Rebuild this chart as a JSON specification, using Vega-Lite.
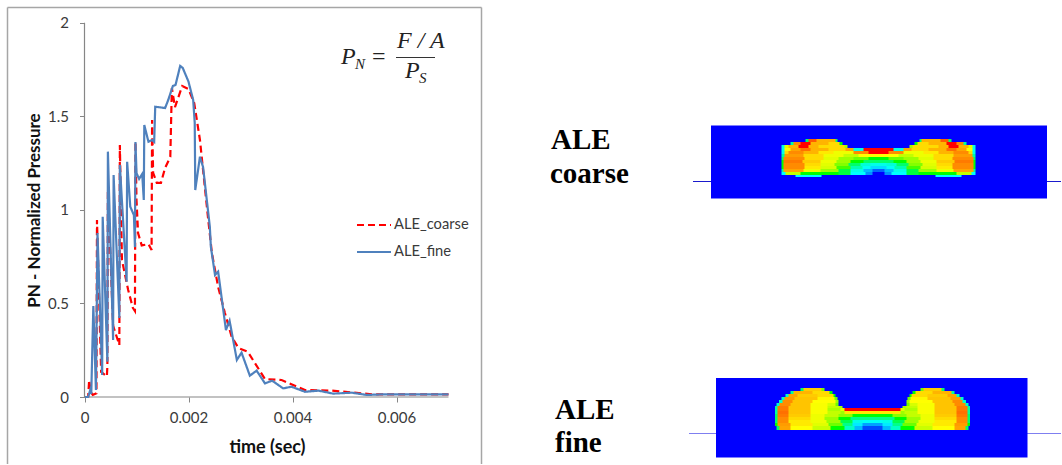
{"$schema":"https://vega.github.io/schema/vega-lite/v6.json","width":1062,"height":465,"autosize":{"type":"fit","contains":"padding"},"padding":0,"background":"#ffffff","config":{"view":{"stroke":null}},
"datasets":{
"one":[{}],
"pressure":[
{"series":"ALE_coarse","time":0.00001,"pn":0},{"series":"ALE_coarse","time":0.00007,"pn":0},{"series":"ALE_coarse","time":0.00009,"pn":0.091},{"series":"ALE_coarse","time":0.00012,"pn":0.027},{"series":"ALE_coarse","time":0.00016,"pn":0.011},{"series":"ALE_coarse","time":0.00023,"pn":0.02},{"series":"ALE_coarse","time":0.00024,"pn":0.946},{"series":"ALE_coarse","time":0.00032,"pn":0.134},{"series":"ALE_coarse","time":0.00043,"pn":0.11},{"series":"ALE_coarse","time":0.00044,"pn":0.166},{"series":"ALE_coarse","time":0.00045,"pn":1.106},{"series":"ALE_coarse","time":0.00055,"pn":0.381},{"series":"ALE_coarse","time":0.00067,"pn":0.278},{"series":"ALE_coarse","time":0.00068,"pn":1.346},{"series":"ALE_coarse","time":0.00072,"pn":0.732},{"series":"ALE_coarse","time":0.00084,"pn":0.572},{"series":"ALE_coarse","time":0.00093,"pn":0.476},{"series":"ALE_coarse","time":0.00097,"pn":0.459},{"series":"ALE_coarse","time":0.00098,"pn":1.364},{"series":"ALE_coarse","time":0.001,"pn":1.053},{"series":"ALE_coarse","time":0.00103,"pn":0.876},{"series":"ALE_coarse","time":0.0011,"pn":0.81},{"series":"ALE_coarse","time":0.00123,"pn":0.817},{"series":"ALE_coarse","time":0.00129,"pn":0.786},{"series":"ALE_coarse","time":0.0013,"pn":1.48},{"series":"ALE_coarse","time":0.00132,"pn":1.197},{"series":"ALE_coarse","time":0.00139,"pn":1.144},{"series":"ALE_coarse","time":0.00147,"pn":1.144},{"series":"ALE_coarse","time":0.00155,"pn":1.224},{"series":"ALE_coarse","time":0.00165,"pn":1.283},{"series":"ALE_coarse","time":0.00168,"pn":1.651},{"series":"ALE_coarse","time":0.00174,"pn":1.549},{"series":"ALE_coarse","time":0.00188,"pn":1.662},{"series":"ALE_coarse","time":0.002,"pn":1.646},{"series":"ALE_coarse","time":0.00211,"pn":1.571},{"series":"ALE_coarse","time":0.00222,"pn":1.374},{"series":"ALE_coarse","time":0.00228,"pn":1.213},{"series":"ALE_coarse","time":0.00238,"pn":0.946},{"series":"ALE_coarse","time":0.00245,"pn":0.769},{"series":"ALE_coarse","time":0.00257,"pn":0.588},{"series":"ALE_coarse","time":0.0027,"pn":0.449},{"series":"ALE_coarse","time":0.00283,"pn":0.322},{"series":"ALE_coarse","time":0.00296,"pn":0.262},{"series":"ALE_coarse","time":0.00314,"pn":0.242},{"series":"ALE_coarse","time":0.00347,"pn":0.096},{"series":"ALE_coarse","time":0.00379,"pn":0.091},{"series":"ALE_coarse","time":0.00424,"pn":0.037},{"series":"ALE_coarse","time":0.00475,"pn":0.034},{"series":"ALE_coarse","time":0.00533,"pn":0.02},{"series":"ALE_coarse","time":0.00552,"pn":0.014},{"series":"ALE_coarse","time":0.007,"pn":0.014},
{"series":"ALE_fine","time":0.00001,"pn":0},{"series":"ALE_fine","time":0.00007,"pn":0},{"series":"ALE_fine","time":0.00011,"pn":0.037},{"series":"ALE_fine","time":0.00013,"pn":0.016},{"series":"ALE_fine","time":0.00017,"pn":0.486},{"series":"ALE_fine","time":0.00022,"pn":0.037},{"series":"ALE_fine","time":0.00025,"pn":0.876},{"series":"ALE_fine","time":0.00034,"pn":0.118},{"series":"ALE_fine","time":0.00035,"pn":0.963},{"series":"ALE_fine","time":0.00044,"pn":0.189},{"series":"ALE_fine","time":0.00045,"pn":1.311},{"series":"ALE_fine","time":0.00055,"pn":0.305},{"series":"ALE_fine","time":0.00056,"pn":1.186},{"series":"ALE_fine","time":0.00067,"pn":0.422},{"series":"ALE_fine","time":0.00068,"pn":1.24},{"series":"ALE_fine","time":0.00081,"pn":0.616},{"series":"ALE_fine","time":0.00082,"pn":1.257},{"series":"ALE_fine","time":0.00088,"pn":1.017},{"series":"ALE_fine","time":0.00095,"pn":0.972},{"series":"ALE_fine","time":0.00097,"pn":0.801},{"series":"ALE_fine","time":0.00098,"pn":1.363},{"series":"ALE_fine","time":0.001,"pn":1.197},{"series":"ALE_fine","time":0.00105,"pn":1.165},{"series":"ALE_fine","time":0.00111,"pn":1.192},{"series":"ALE_fine","time":0.00114,"pn":1.053},{"series":"ALE_fine","time":0.00115,"pn":1.453},{"series":"ALE_fine","time":0.00123,"pn":1.364},{"series":"ALE_fine","time":0.0013,"pn":1.373},{"series":"ALE_fine","time":0.00134,"pn":1.363},{"series":"ALE_fine","time":0.00136,"pn":1.551},{"series":"ALE_fine","time":0.00155,"pn":1.544},{"series":"ALE_fine","time":0.00161,"pn":1.587},{"series":"ALE_fine","time":0.0017,"pn":1.662},{"series":"ALE_fine","time":0.00175,"pn":1.667},{"series":"ALE_fine","time":0.00184,"pn":1.769},{"series":"ALE_fine","time":0.00189,"pn":1.758},{"series":"ALE_fine","time":0.002,"pn":1.685},{"series":"ALE_fine","time":0.00209,"pn":1.587},{"series":"ALE_fine","time":0.00212,"pn":1.464},{"series":"ALE_fine","time":0.00213,"pn":1.106},{"series":"ALE_fine","time":0.00222,"pn":1.284},{"series":"ALE_fine","time":0.00228,"pn":1.229},{"series":"ALE_fine","time":0.00241,"pn":0.91},{"series":"ALE_fine","time":0.00243,"pn":0.803},{"series":"ALE_fine","time":0.00251,"pn":0.652},{"series":"ALE_fine","time":0.00257,"pn":0.67},{"series":"ALE_fine","time":0.00272,"pn":0.358},{"series":"ALE_fine","time":0.00279,"pn":0.408},{"series":"ALE_fine","time":0.00293,"pn":0.198},{"series":"ALE_fine","time":0.00302,"pn":0.237},{"series":"ALE_fine","time":0.00318,"pn":0.114},{"series":"ALE_fine","time":0.00331,"pn":0.141},{"series":"ALE_fine","time":0.00347,"pn":0.073},{"series":"ALE_fine","time":0.00361,"pn":0.087},{"series":"ALE_fine","time":0.00382,"pn":0.046},{"series":"ALE_fine","time":0.00398,"pn":0.055},{"series":"ALE_fine","time":0.00424,"pn":0.028},{"series":"ALE_fine","time":0.0045,"pn":0.034},{"series":"ALE_fine","time":0.00478,"pn":0.018},{"series":"ALE_fine","time":0.00514,"pn":0.023},{"series":"ALE_fine","time":0.00543,"pn":0.011},{"series":"ALE_fine","time":0.00572,"pn":0.014},{"series":"ALE_fine","time":0.007,"pn":0.014}
],
"field":[
{"x0":711,"x1":1047,"y0":125.5,"y1":198.5,"level":0},
{"x0":805.5,"x1":951.5,"y0":139,"y1":142,"level":0.45},{"x0":808.5,"x1":948.5,"y0":139,"y1":142,"level":0.95},{"x0":816.5,"x1":940.5,"y0":139,"y1":142,"level":0.85},{"x0":835.5,"x1":921.5,"y0":139,"y1":142,"level":0.45},{"x0":837.5,"x1":919.5,"y0":139,"y1":142,"level":0},
{"x0":790.5,"x1":966.5,"y0":142,"y1":145,"level":0.4},{"x0":793.5,"x1":963.5,"y0":142,"y1":145,"level":0.9},{"x0":800.5,"x1":956.5,"y0":142,"y1":145,"level":1},{"x0":810.5,"x1":946.5,"y0":142,"y1":145,"level":0.85},{"x0":828.5,"x1":928.5,"y0":142,"y1":145,"level":0.8},{"x0":839.5,"x1":917.5,"y0":142,"y1":145,"level":0.5},{"x0":842.5,"x1":914.5,"y0":142,"y1":145,"level":0},
{"x0":781.5,"x1":975.5,"y0":145,"y1":148,"level":0.3},{"x0":784.5,"x1":972.5,"y0":145,"y1":148,"level":0.7},{"x0":788.5,"x1":968.5,"y0":145,"y1":148,"level":0.85},{"x0":798.5,"x1":958.5,"y0":145,"y1":148,"level":1},{"x0":808.5,"x1":948.5,"y0":145,"y1":148,"level":0.85},{"x0":818.5,"x1":938.5,"y0":145,"y1":148,"level":0.8},{"x0":844.5,"x1":912.5,"y0":145,"y1":148,"level":0.6},{"x0":847.5,"x1":909.5,"y0":145,"y1":148,"level":0},
{"x0":781.5,"x1":975.5,"y0":148,"y1":151,"level":0.3},{"x0":784.5,"x1":972.5,"y0":148,"y1":151,"level":0.75},{"x0":790.5,"x1":966.5,"y0":148,"y1":151,"level":0.87},{"x0":800.5,"x1":956.5,"y0":148,"y1":151,"level":0.93},{"x0":810.5,"x1":946.5,"y0":148,"y1":151,"level":0.85},{"x0":828.5,"x1":928.5,"y0":148,"y1":151,"level":0.8},{"x0":845.5,"x1":911.5,"y0":148,"y1":151,"level":0.87},{"x0":853.5,"x1":903.5,"y0":148,"y1":151,"level":0.3},{"x0":863.5,"x1":893.5,"y0":148,"y1":151,"level":1},
{"x0":781.5,"x1":975.5,"y0":151,"y1":154,"level":0.3},{"x0":784.5,"x1":972.5,"y0":151,"y1":154,"level":0.8},{"x0":788.5,"x1":968.5,"y0":151,"y1":154,"level":0.9},{"x0":803.5,"x1":953.5,"y0":151,"y1":154,"level":0.85},{"x0":818.5,"x1":938.5,"y0":151,"y1":154,"level":0.78},{"x0":833.5,"x1":923.5,"y0":151,"y1":154,"level":0.72},{"x0":853.5,"x1":903.5,"y0":151,"y1":154,"level":0.9},{"x0":868.5,"x1":888.5,"y0":151,"y1":154,"level":1},
{"x0":781.5,"x1":975.5,"y0":154,"y1":157,"level":0.4},{"x0":784.5,"x1":972.5,"y0":154,"y1":157,"level":0.88},{"x0":803.5,"x1":953.5,"y0":154,"y1":157,"level":0.8},{"x0":823.5,"x1":933.5,"y0":154,"y1":157,"level":0.72},{"x0":843.5,"x1":913.5,"y0":154,"y1":157,"level":0.65},{"x0":858.5,"x1":898.5,"y0":154,"y1":157,"level":0.75},
{"x0":781.5,"x1":975.5,"y0":157,"y1":160,"level":0.45},{"x0":783.5,"x1":973.5,"y0":157,"y1":160,"level":0.9},{"x0":804.5,"x1":952.5,"y0":157,"y1":160,"level":0.8},{"x0":823.5,"x1":933.5,"y0":157,"y1":160,"level":0.7},{"x0":838.5,"x1":918.5,"y0":157,"y1":160,"level":0.6},{"x0":853.5,"x1":903.5,"y0":157,"y1":160,"level":0.55},{"x0":868.5,"x1":888.5,"y0":157,"y1":160,"level":0.5},
{"x0":781.5,"x1":975.5,"y0":160,"y1":163,"level":0.5},{"x0":783.5,"x1":973.5,"y0":160,"y1":163,"level":0.92},{"x0":802.5,"x1":954.5,"y0":160,"y1":163,"level":0.82},{"x0":820.5,"x1":936.5,"y0":160,"y1":163,"level":0.72},{"x0":836.5,"x1":920.5,"y0":160,"y1":163,"level":0.6},{"x0":850.5,"x1":906.5,"y0":160,"y1":163,"level":0.5},{"x0":863.5,"x1":893.5,"y0":160,"y1":163,"level":0.45},
{"x0":781.5,"x1":975.5,"y0":163,"y1":166,"level":0.5},{"x0":783.5,"x1":973.5,"y0":163,"y1":166,"level":0.9},{"x0":804.5,"x1":952.5,"y0":163,"y1":166,"level":0.8},{"x0":820.5,"x1":936.5,"y0":163,"y1":166,"level":0.7},{"x0":834.5,"x1":922.5,"y0":163,"y1":166,"level":0.57},{"x0":848.5,"x1":908.5,"y0":163,"y1":166,"level":0.45},{"x0":860.5,"x1":896.5,"y0":163,"y1":166,"level":0.33},{"x0":870.5,"x1":886.5,"y0":163,"y1":166,"level":0.3},
{"x0":781.5,"x1":975.5,"y0":166,"y1":169,"level":0.5},{"x0":783.5,"x1":973.5,"y0":166,"y1":169,"level":0.9},{"x0":804.5,"x1":952.5,"y0":166,"y1":169,"level":0.78},{"x0":820.5,"x1":936.5,"y0":166,"y1":169,"level":0.68},{"x0":836.5,"x1":920.5,"y0":166,"y1":169,"level":0.52},{"x0":850.5,"x1":906.5,"y0":166,"y1":169,"level":0.38},{"x0":862.5,"x1":894.5,"y0":166,"y1":169,"level":0.27},{"x0":870.5,"x1":886.5,"y0":166,"y1":169,"level":0.2},
{"x0":781.5,"x1":975.5,"y0":169,"y1":172,"level":0.4},{"x0":783.5,"x1":973.5,"y0":169,"y1":172,"level":0.87},{"x0":803.5,"x1":953.5,"y0":169,"y1":172,"level":0.72},{"x0":820.5,"x1":936.5,"y0":169,"y1":172,"level":0.6},{"x0":838.5,"x1":918.5,"y0":169,"y1":172,"level":0.48},{"x0":850.5,"x1":906.5,"y0":169,"y1":172,"level":0.3},{"x0":863.5,"x1":893.5,"y0":169,"y1":172,"level":0.15},{"x0":872.5,"x1":884.5,"y0":169,"y1":172,"level":0.05},
{"x0":781.5,"x1":975.5,"y0":172,"y1":175,"level":0.25},{"x0":785.5,"x1":971.5,"y0":172,"y1":175,"level":0.65},{"x0":800.5,"x1":956.5,"y0":172,"y1":175,"level":0.5},{"x0":838.5,"x1":918.5,"y0":172,"y1":175,"level":0.48},{"x0":850.5,"x1":906.5,"y0":172,"y1":175,"level":0.25},{"x0":865.5,"x1":891.5,"y0":172,"y1":175,"level":0.1},{"x0":872.5,"x1":884.5,"y0":172,"y1":175,"level":0},
{"x0":795.5,"x1":961.5,"y0":175,"y1":177,"level":0.25},{"x0":821.5,"x1":935.5,"y0":175,"y1":177,"level":0},
{"x0":716,"x1":1027.5,"y0":378,"y1":457.5,"level":0},
{"x0":800.5,"x1":944.5,"y0":388,"y1":391,"level":0.45},{"x0":803.5,"x1":941.5,"y0":388,"y1":391,"level":0.82},{"x0":821.5,"x1":923.5,"y0":388,"y1":391,"level":0.55},{"x0":824.5,"x1":920.5,"y0":388,"y1":391,"level":0},
{"x0":790.5,"x1":954.5,"y0":391,"y1":394,"level":0.4},{"x0":793.5,"x1":951.5,"y0":391,"y1":394,"level":0.85},{"x0":812.5,"x1":932.5,"y0":391,"y1":394,"level":0.8},{"x0":829.5,"x1":915.5,"y0":391,"y1":394,"level":0.5},{"x0":832.5,"x1":912.5,"y0":391,"y1":394,"level":0},
{"x0":785.5,"x1":959.5,"y0":394,"y1":397,"level":0.35},{"x0":788.5,"x1":956.5,"y0":394,"y1":397,"level":0.87},{"x0":797.5,"x1":947.5,"y0":394,"y1":397,"level":0.82},{"x0":817.5,"x1":927.5,"y0":394,"y1":397,"level":0.8},{"x0":833.5,"x1":911.5,"y0":394,"y1":397,"level":0.5},{"x0":835.5,"x1":909.5,"y0":394,"y1":397,"level":0},
{"x0":781.5,"x1":963.5,"y0":397,"y1":400,"level":0.35},{"x0":784.5,"x1":960.5,"y0":397,"y1":400,"level":0.88},{"x0":794.5,"x1":950.5,"y0":397,"y1":400,"level":0.83},{"x0":817.5,"x1":927.5,"y0":397,"y1":400,"level":0.76},{"x0":834.5,"x1":910.5,"y0":397,"y1":400,"level":0.55},{"x0":837.5,"x1":907.5,"y0":397,"y1":400,"level":0},
{"x0":779,"x1":966,"y0":400,"y1":403,"level":0.35},{"x0":782.5,"x1":962.5,"y0":400,"y1":403,"level":0.9},{"x0":792.5,"x1":952.5,"y0":400,"y1":403,"level":0.83},{"x0":812.5,"x1":932.5,"y0":400,"y1":403,"level":0.75},{"x0":835.5,"x1":909.5,"y0":400,"y1":403,"level":0.6},{"x0":838.5,"x1":906.5,"y0":400,"y1":403,"level":0},
{"x0":776.5,"x1":968.5,"y0":403,"y1":406,"level":0.35},{"x0":779.5,"x1":965.5,"y0":403,"y1":406,"level":0.9},{"x0":790.5,"x1":954.5,"y0":403,"y1":406,"level":0.83},{"x0":810.5,"x1":934.5,"y0":403,"y1":406,"level":0.74},{"x0":827.5,"x1":917.5,"y0":403,"y1":406,"level":0.68},{"x0":835.5,"x1":909.5,"y0":403,"y1":406,"level":0.55},{"x0":838.5,"x1":906.5,"y0":403,"y1":406,"level":0},
{"x0":775,"x1":970,"y0":406,"y1":408,"level":0.4},{"x0":777.5,"x1":967.5,"y0":406,"y1":408,"level":0.92},{"x0":788.5,"x1":956.5,"y0":406,"y1":408,"level":0.83},{"x0":810.5,"x1":934.5,"y0":406,"y1":408,"level":0.74},{"x0":827.5,"x1":917.5,"y0":406,"y1":408,"level":0.65},{"x0":839.5,"x1":905.5,"y0":406,"y1":408,"level":0.6},{"x0":842.5,"x1":902.5,"y0":406,"y1":408,"level":0},
{"x0":775,"x1":970,"y0":408,"y1":411,"level":0.4},{"x0":777.5,"x1":967.5,"y0":408,"y1":411,"level":0.92},{"x0":788.5,"x1":956.5,"y0":408,"y1":411,"level":0.83},{"x0":810.5,"x1":934.5,"y0":408,"y1":411,"level":0.74},{"x0":827.5,"x1":917.5,"y0":408,"y1":411,"level":0.62},{"x0":840.5,"x1":904.5,"y0":408,"y1":411,"level":0.7},{"x0":844.5,"x1":900.5,"y0":408,"y1":411,"level":1},
{"x0":775,"x1":970,"y0":411,"y1":414,"level":0.4},{"x0":777.5,"x1":967.5,"y0":411,"y1":414,"level":0.93},{"x0":788.5,"x1":956.5,"y0":411,"y1":414,"level":0.83},{"x0":810.5,"x1":934.5,"y0":411,"y1":414,"level":0.74},{"x0":827.5,"x1":917.5,"y0":411,"y1":414,"level":0.65},{"x0":840.5,"x1":904.5,"y0":411,"y1":414,"level":0.6},{"x0":844.5,"x1":900.5,"y0":411,"y1":414,"level":0.78},
{"x0":775,"x1":970,"y0":414,"y1":417,"level":0.45},{"x0":777.5,"x1":967.5,"y0":414,"y1":417,"level":0.92},{"x0":788.5,"x1":956.5,"y0":414,"y1":417,"level":0.82},{"x0":810.5,"x1":934.5,"y0":414,"y1":417,"level":0.72},{"x0":824.5,"x1":920.5,"y0":414,"y1":417,"level":0.65},{"x0":838.5,"x1":906.5,"y0":414,"y1":417,"level":0.58},{"x0":852.5,"x1":892.5,"y0":414,"y1":417,"level":0.5},
{"x0":775,"x1":970,"y0":417,"y1":420,"level":0.45},{"x0":777.5,"x1":967.5,"y0":417,"y1":420,"level":0.9},{"x0":788.5,"x1":956.5,"y0":417,"y1":420,"level":0.8},{"x0":810.5,"x1":934.5,"y0":417,"y1":420,"level":0.72},{"x0":824.5,"x1":920.5,"y0":417,"y1":420,"level":0.6},{"x0":838.5,"x1":906.5,"y0":417,"y1":420,"level":0.5},{"x0":850.5,"x1":894.5,"y0":417,"y1":420,"level":0.42},
{"x0":775,"x1":970,"y0":420,"y1":423,"level":0.45},{"x0":777.5,"x1":967.5,"y0":420,"y1":423,"level":0.9},{"x0":788.5,"x1":956.5,"y0":420,"y1":423,"level":0.78},{"x0":810.5,"x1":934.5,"y0":420,"y1":423,"level":0.72},{"x0":826.5,"x1":918.5,"y0":420,"y1":423,"level":0.6},{"x0":840.5,"x1":904.5,"y0":420,"y1":423,"level":0.47},{"x0":852.5,"x1":892.5,"y0":420,"y1":423,"level":0.3},{"x0":862.5,"x1":882.5,"y0":420,"y1":423,"level":0.27},
{"x0":775,"x1":970,"y0":423,"y1":426,"level":0.5},{"x0":777.5,"x1":967.5,"y0":423,"y1":426,"level":0.88},{"x0":790.5,"x1":954.5,"y0":423,"y1":426,"level":0.78},{"x0":812.5,"x1":932.5,"y0":423,"y1":426,"level":0.7},{"x0":828.5,"x1":916.5,"y0":423,"y1":426,"level":0.55},{"x0":842.5,"x1":902.5,"y0":423,"y1":426,"level":0.42},{"x0":852.5,"x1":892.5,"y0":423,"y1":426,"level":0.22},{"x0":862.5,"x1":882.5,"y0":423,"y1":426,"level":0.12},
{"x0":776.5,"x1":968.5,"y0":426,"y1":430,"level":0.45},{"x0":779.5,"x1":965.5,"y0":426,"y1":430,"level":0.87},{"x0":790.5,"x1":954.5,"y0":426,"y1":430,"level":0.75},{"x0":812.5,"x1":932.5,"y0":426,"y1":430,"level":0.66},{"x0":830.5,"x1":914.5,"y0":426,"y1":430,"level":0.5},{"x0":844.5,"x1":900.5,"y0":426,"y1":430,"level":0.35},{"x0":854.5,"x1":890.5,"y0":426,"y1":430,"level":0.15},{"x0":862.5,"x1":882.5,"y0":426,"y1":430,"level":0.03}
],
"frame":[{"x0":7.5,"x1":481.5,"y0":7.5,"y1":7.5},{"x0":7.5,"x1":7.5,"y0":7.5,"y1":464},{"x0":481.5,"x1":481.5,"y0":7.5,"y1":464}]
},
"layer":[
{"layer":[
{"data":{"name":"frame"},"mark":{"type":"rule","stroke":"#a6a6a6","strokeWidth":1.5},"encoding":{"x":{"field":"x0","type":"quantitative","scale":{"domain":[0,1062],"nice":false,"zero":false},"axis":null},"x2":{"field":"x1"},"y":{"field":"y0","type":"quantitative","scale":{"domain":[465,0],"nice":false,"zero":false},"axis":null},"y2":{"field":"y1"}}},
{"data":{"name":"one"},"mark":{"type":"rule","stroke":"#1a1acc","strokeWidth":1},"encoding":{"x":{"datum":693,"type":"quantitative","axis":null},"x2":{"datum":1061},"y":{"datum":181.5,"type":"quantitative","axis":null}}},
{"data":{"name":"one"},"mark":{"type":"rule","stroke":"#7f7ff0","strokeWidth":1.2},"encoding":{"x":{"datum":689,"type":"quantitative","axis":null},"x2":{"datum":1061},"y":{"datum":433.5,"type":"quantitative","axis":null}}},
{"data":{"name":"field"},"mark":{"type":"rect","stroke":null},"encoding":{"x":{"field":"x0","type":"quantitative","scale":{"domain":[0,1062],"nice":false,"zero":false},"axis":null},"x2":{"field":"x1"},"y":{"field":"y0","type":"quantitative","scale":{"domain":[465,0],"nice":false,"zero":false},"axis":null},"y2":{"field":"y1"},"fill":{"field":"level","type":"quantitative","scale":{"domain":[0,0.25,0.5,0.75,1],"range":["#0000ff","#00ffff","#00ff00","#ffff00","#ff0000"]},"legend":null}}},
{"data":{"name":"one"},"mark":{"type":"text","text":"ALE","font":"Liberation Serif","fontWeight":"bold","fontSize":29,"align":"left","baseline":"alphabetic","fill":"#000000"},"encoding":{"x":{"datum":551,"type":"quantitative","axis":null},"y":{"datum":149,"type":"quantitative","axis":null}}},
{"data":{"name":"one"},"mark":{"type":"text","text":"coarse","font":"Liberation Serif","fontWeight":"bold","fontSize":29,"align":"left","baseline":"alphabetic","fill":"#000000"},"encoding":{"x":{"datum":550,"type":"quantitative","axis":null},"y":{"datum":183,"type":"quantitative","axis":null}}},
{"data":{"name":"one"},"mark":{"type":"text","text":"ALE","font":"Liberation Serif","fontWeight":"bold","fontSize":29,"align":"left","baseline":"alphabetic","fill":"#000000"},"encoding":{"x":{"datum":555,"type":"quantitative","axis":null},"y":{"datum":419,"type":"quantitative","axis":null}}},
{"data":{"name":"one"},"mark":{"type":"text","text":"fine","font":"Liberation Serif","fontWeight":"bold","fontSize":29,"align":"left","baseline":"alphabetic","fill":"#000000"},"encoding":{"x":{"datum":555,"type":"quantitative","axis":null},"y":{"datum":452,"type":"quantitative","axis":null}}},
{"data":{"name":"one"},"mark":{"type":"text","text":"P","font":"Liberation Serif","fontStyle":"italic","fontSize":24,"align":"left","baseline":"alphabetic","fill":"#222222"},"encoding":{"x":{"datum":341,"type":"quantitative","axis":null},"y":{"datum":64,"type":"quantitative","axis":null}}},
{"data":{"name":"one"},"mark":{"type":"text","text":"N","font":"Liberation Serif","fontStyle":"italic","fontSize":15,"align":"left","baseline":"alphabetic","fill":"#222222"},"encoding":{"x":{"datum":355,"type":"quantitative","axis":null},"y":{"datum":69,"type":"quantitative","axis":null}}},
{"data":{"name":"one"},"mark":{"type":"text","text":"=","font":"Liberation Serif","fontSize":24,"align":"left","baseline":"alphabetic","fill":"#222222"},"encoding":{"x":{"datum":372,"type":"quantitative","axis":null},"y":{"datum":64,"type":"quantitative","axis":null}}},
{"data":{"name":"one"},"mark":{"type":"text","text":"F / A","font":"Liberation Serif","fontStyle":"italic","fontSize":24,"align":"left","baseline":"alphabetic","fill":"#222222"},"encoding":{"x":{"datum":397,"type":"quantitative","axis":null},"y":{"datum":48,"type":"quantitative","axis":null}}},
{"data":{"name":"one"},"mark":{"type":"rule","stroke":"#333333","strokeWidth":1},"encoding":{"x":{"datum":396,"type":"quantitative","axis":null},"x2":{"datum":435},"y":{"datum":57.5,"type":"quantitative","axis":null}}},
{"data":{"name":"one"},"mark":{"type":"text","text":"P","font":"Liberation Serif","fontStyle":"italic","fontSize":24,"align":"left","baseline":"alphabetic","fill":"#222222"},"encoding":{"x":{"datum":405,"type":"quantitative","axis":null},"y":{"datum":78,"type":"quantitative","axis":null}}},
{"data":{"name":"one"},"mark":{"type":"text","text":"S","font":"Liberation Serif","fontStyle":"italic","fontSize":15,"align":"left","baseline":"alphabetic","fill":"#222222"},"encoding":{"x":{"datum":419,"type":"quantitative","axis":null},"y":{"datum":83,"type":"quantitative","axis":null}}}
]},
{"layer":[
{"data":{"name":"one"},"mark":{"type":"rule","stroke":"#868686","strokeWidth":1.2},"encoding":{"x":{"datum":0,"type":"quantitative","scale":{"domain":[-0.001625,0.018798],"nice":false,"zero":false},"axis":{"values":[0,0.002,0.004,0.006],"format":"~g","orient":"bottom","offset":-68,"domain":false,"grid":false,"tickColor":"#868686","tickSize":5,"labelFont":"Lato","labelFontSize":15,"labelColor":"#3a3a3a","labelPadding":8,"title":"time (sec)","titleFont":"Lato","titleFontWeight":"bold","titleFontSize":18,"titleColor":"#111111","titleX":267,"titleY":41}},"x2":{"datum":0.007},"y":{"datum":0,"type":"quantitative","scale":{"domain":[-0.3633,2.1213],"nice":false,"zero":false},"axis":{"values":[0,0.5,1,1.5,2],"format":"~g","orient":"left","offset":-84.5,"domain":false,"grid":false,"tickColor":"#868686","tickSize":5,"labelFont":"Lato","labelFontSize":15,"labelColor":"#3a3a3a","labelPadding":11,"title":"PN - Normalized Pressure","titleFont":"Lato","titleFontWeight":"bold","titleFontSize":17,"titleColor":"#111111","titleX":-41,"titleY":210}}}},
{"data":{"name":"one"},"mark":{"type":"rule","stroke":"#868686","strokeWidth":1.2},"encoding":{"x":{"datum":0,"type":"quantitative"},"y":{"datum":0,"type":"quantitative"},"y2":{"datum":2}}},
{"data":{"name":"pressure"},"mark":{"type":"line","strokeWidth":2.2,"interpolate":"linear"},"encoding":{"x":{"field":"time","type":"quantitative"},"y":{"field":"pn","type":"quantitative"},"color":{"field":"series","type":"nominal","scale":{"domain":["ALE_coarse","ALE_fine"],"range":["#ff0000","#4f81bd"]},"legend":{"title":null,"orient":"none","legendX":359,"legendY":210,"symbolType":"M-1.26,0H1.26","symbolSize":729,"symbolStrokeWidth":2.2,"labelFont":"Lato","labelFontSize":14.7,"labelColor":"#3a3a3a","labelOffset":5,"rowPadding":5}},"strokeDash":{"field":"series","type":"nominal","scale":{"domain":["ALE_coarse","ALE_fine"],"range":[[7,4],[1,0]]},"legend":{"title":null,"orient":"none","legendX":359,"legendY":210,"symbolType":"M-1.26,0H1.26","symbolSize":729,"symbolStrokeWidth":2.2,"labelFont":"Lato","labelFontSize":14.7,"labelColor":"#3a3a3a","labelOffset":5,"rowPadding":5}}}}
]}
],
"resolve":{"scale":{"x":"independent","y":"independent","color":"independent","strokeDash":"independent"}}}
